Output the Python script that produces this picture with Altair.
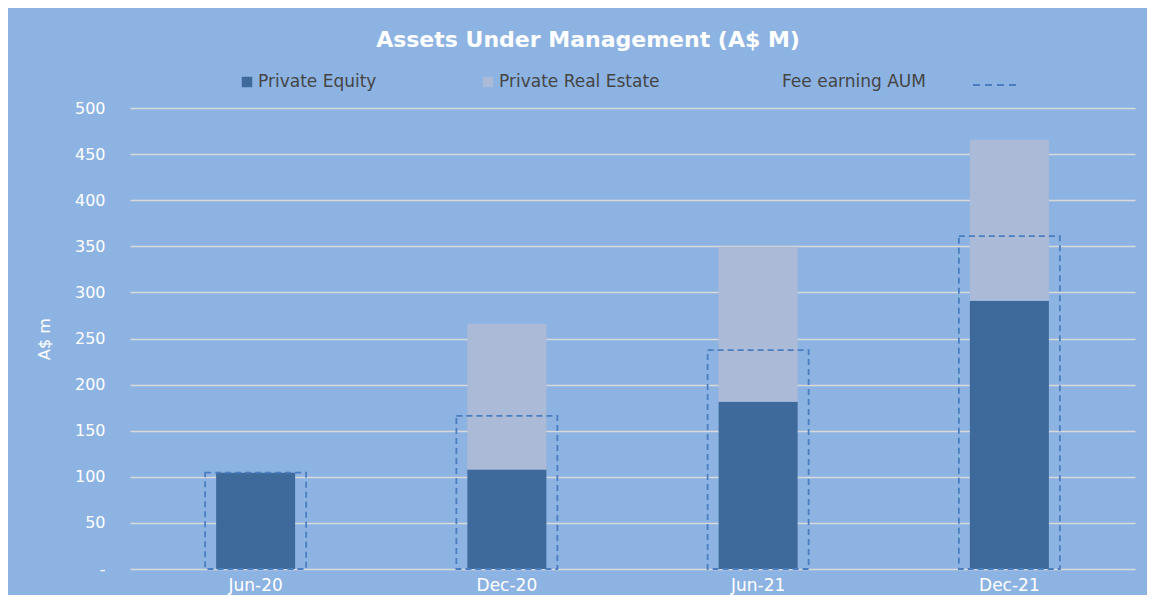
import altair as alt
import pandas as pd

# ---- data ----
PERIODS = ["Jun-20", "Dec-20", "Jun-21", "Dec-21"]
SERIES = ["Private Equity", "Private Real Estate"]
PE = [104.5, 108, 181.5, 291]
PRE = [0, 158, 168, 174.5]
FEE = [104.5, 166, 237.5, 361]
FEE_LABEL = "Fee earning AUM"
TITLE = "Assets Under Management (A$ M)"
Y_TITLE = "A$ m"
Y_TICKS = [0, 50, 100, 150, 200, 250, 300, 350, 400, 450, 500]

# ---- style ----
BG = "#8DB3E2"
PE_C = "#3E6A9B"
PRE_C = "#AABAD7"
DASH_C = "#4A7EC0"
GRID_C = "#D9D9D9"
LEG_TXT = "#454545"
FONT = "DejaVu Sans"

rows = []
for i, p in enumerate(PERIODS):
    rows.append({"period": p, "series": SERIES[0], "value": PE[i], "ord": 0})
    rows.append({"period": p, "series": SERIES[1], "value": PRE[i], "ord": 1})
bars_df = pd.DataFrame(rows)
fee_df = pd.DataFrame({"period": PERIODS, "fee": FEE})

x_enc = alt.X(
    "period:N",
    sort=PERIODS,
    scale=alt.Scale(paddingInner=0, paddingOuter=0),
    axis=alt.Axis(
        title=None, labelAngle=0, labelColor="white", labelFontSize=17,
        labelFont=FONT, labelPadding=8, domain=False, ticks=False, grid=False,
    ),
)
y_scale = alt.Scale(domain=[0, 500], nice=False)
y_axis = alt.Axis(
    values=Y_TICKS,
    labelExpr="datum.value == 0 ? '-' : datum.label",
    labelColor="white", labelFontSize=16, labelFont=FONT, labelPadding=25,
    domain=False, ticks=False, gridColor=GRID_C, gridWidth=1.5,
    title=Y_TITLE, titleColor="white", titleFontSize=16, titleFont=FONT,
    titleFontWeight="normal", titlePadding=22,
)

bars = alt.Chart(bars_df).mark_bar(size=79).encode(
    x=x_enc,
    y=alt.Y("value:Q", stack="zero", scale=y_scale, axis=y_axis),
    color=alt.Color("series:N", scale=alt.Scale(domain=SERIES, range=[PE_C, PRE_C]), legend=None),
    order=alt.Order("ord:Q"),
)

fee = alt.Chart(fee_df).mark_bar(
    size=101, filled=False, stroke=DASH_C, strokeWidth=1.8, strokeDash=[6, 4]
).encode(
    x=x_enc,
    y=alt.Y("fee:Q", scale=y_scale),
)

# ---- title and legend (positioned in plot coordinates) ----
title_df = pd.DataFrame({"t": [TITLE]})
title = alt.Chart(title_df).mark_text(
    font="DejaVu Sans", fontSize=22, fontWeight="bold", color="white",
    align="center", baseline="middle",
).encode(text="t:N", x=alt.value(458), y=alt.value(-68))

def leg_text(label, xpos):
    return alt.Chart(pd.DataFrame({"t": [label]})).mark_text(
        font=FONT, fontSize=17, color=LEG_TXT, align="left", baseline="middle"
    ).encode(text="t:N", x=alt.value(xpos), y=alt.value(-26))

def leg_square(color, xpos):
    return alt.Chart(pd.DataFrame({"t": [0]})).mark_square(
        size=110, color=color, opacity=1
    ).encode(x=alt.value(xpos), y=alt.value(-26))

leg_dash = alt.Chart(pd.DataFrame({"t": [0]})).mark_rule(
    color=DASH_C, strokeWidth=2, strokeDash=[7, 5]
).encode(x=alt.value(843), x2=alt.value(888), y=alt.value(-23))

chart = alt.layer(
    bars, fee, title,
    leg_square(PE_C, 117), leg_text(SERIES[0], 128),
    leg_square(PRE_C, 358), leg_text(SERIES[1], 369),
    leg_text(FEE_LABEL, 652), leg_dash,
).properties(
    width=1005, height=461,
    padding={"left": 122, "top": 100, "right": 12, "bottom": 26},
    autosize="none",
    background=BG,
).configure_view(stroke=None)

chart.save("out.html", embed_options={"renderer": "svg", "actions": False})
